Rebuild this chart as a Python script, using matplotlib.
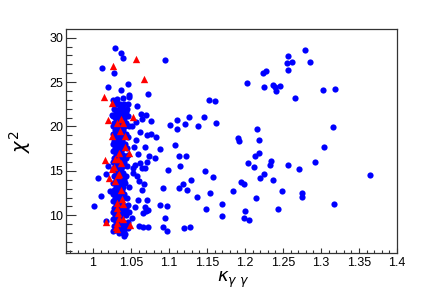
import matplotlib
matplotlib.use('Agg')
import matplotlib.pyplot as plt
import numpy as np
from matplotlib.ticker import MultipleLocator

# kappa_gg vs chi2
blue_wide = [
    (1.095, 27.52), (1.0726, 23.69), (1.2028, 24.93), (1.2234, 25.99), (1.2278, 26.28), (1.2247, 24.48),
    (1.1534, 22.98), (1.1606, 22.91), (1.0763, 20.6), (1.1016, 20.14), (1.1112, 20.70), (1.1104, 19.68),
    (1.121, 20.32), (1.1263, 21.04), (1.1381, 20.06), (1.146, 21.10), (1.1613, 20.36), (1.0765, 19.12),
    (1.0827, 18.82), (1.1086, 17.97), (1.1904, 18.67), (1.1917, 18.37), (1.216, 19.68), (1.2181, 18.50),
    (1.0884, 17.50), (1.0814, 16.49), (1.1131, 16.71), (1.1231, 16.71), (1.1144, 15.55), (1.0989, 15.07),
    (1.0927, 13.04), (1.1131, 13.07), (1.1191, 13.56), (1.124, 12.88), (1.1297, 13.94), (1.1474, 14.95),
    (1.1574, 14.31), (1.1376, 12.03), (1.1547, 12.48), (1.0972, 11.05), (1.0954, 9.66), (1.0927, 8.65),
    (1.0972, 8.23), (1.073, 8.65), (1.073, 10.6), (1.1205, 8.54), (1.128, 8.72), (1.1482, 10.74),
    (1.1693, 11.31), (1.1693, 9.92), (1.1847, 12.70), (1.2128, 16.71), (1.219, 17.02), (1.2041, 15.86),
    (1.2115, 15.41), (1.2335, 15.70), (1.2348, 16.08), (1.2247, 14.62), (1.2199, 14.20), (1.1949, 13.78),
    (1.1988, 13.49), (1.215, 11.91), (1.2005, 10.52), (1.1988, 9.70), (1.2049, 9.44), (1.2793, 28.62),
    (1.2563, 27.97), (1.255, 27.12), (1.2625, 27.26), (1.2854, 27.26), (1.2573, 26.40), (1.2375, 24.67),
    (1.2392, 24.41), (1.2414, 23.96), (1.2467, 24.56), (1.2656, 23.24), (1.3025, 24.08), (1.3189, 24.26),
    (1.3162, 19.94), (1.3043, 17.69), (1.2563, 15.70), (1.2708, 15.18), (1.2916, 16.04), (1.365, 14.54),
    (1.2365, 13.98), (1.2493, 12.70), (1.2753, 12.55), (1.2753, 12.03), (1.317, 11.31), (1.2431, 10.71),
]

blue_near = [
    (1.0629, 21.44), (1.0699, 21.33), (1.0642, 20.88), (1.062, 19.35), (1.0708, 19.01), (1.069, 17.69),
    (1.0577, 22.31), (1.0462, 22.53), (1.0479, 23.51), (1.0479, 23.36), (1.0458, 24.82), (1.0366, 24.11),
    (1.0387, 22.31), (1.0396, 23.18), (1.0321, 23.06), (1.0264, 23.02), (1.0317, 22.61), (1.0202, 24.41),
    (1.0123, 26.59), (1.0281, 26.02), (1.0294, 28.81), (1.0369, 28.24), (1.0392, 27.68), (1.0251, 21.29),
    (1.0286, 21.04), (1.0009, 11.08), (1.007, 14.23), (1.0106, 12.14), (1.0168, 9.36), (1.0172, 14.65),
    (1.0228, 12.77), (1.0268, 8.18), (1.0202, 15.55), (1.0532, 15.29), (1.0611, 13.86), (1.0677, 13.49),
    (1.0651, 12.85), (1.0598, 11.72), (1.0554, 10.97), (1.0686, 10.97), (1.0664, 10.29), (1.0479, 10.34),
    (1.0519, 9.66), (1.0611, 8.83), (1.0664, 8.72), (1.0458, 8.54), (1.0422, 7.86), (1.0356, 8.23),
    (1.0413, 7.70), (1.062, 15.86), (1.0712, 16.04), (1.0642, 15.29), (1.0686, 15.29), (1.0554, 15.66),
    (1.058, 14.39), (1.0532, 14.80), (1.0589, 16.87), (1.0545, 17.66), (1.0739, 16.68), (1.0563, 18.45),
    (1.0511, 20.06), (1.0567, 20.47), (1.0884, 11.16), (1.0708, 11.72), (1.0695, 10.45),
]

# the crowded column around kappa ~ 1.03
blue_band = [
    (1.030, 22.5), (1.036, 22.5), (1.041, 22.5), (1.028, 22.0), (1.034, 22.0), (1.040, 22.0), (1.045, 22.0),
    (1.031, 21.6), (1.037, 21.6), (1.043, 21.6), (1.027, 21.2), (1.033, 21.2), (1.039, 21.2), (1.046, 21.2),
    (1.030, 20.8), (1.035, 20.8), (1.041, 20.8), (1.028, 20.4), (1.034, 20.4), (1.038, 20.4), (1.044, 20.4),
    (1.026, 20.0), (1.031, 20.0), (1.036, 20.0), (1.042, 20.0), (1.048, 20.0), (1.029, 19.6), (1.034, 19.6),
    (1.040, 19.6), (1.027, 19.2), (1.032, 19.2), (1.037, 19.2), (1.043, 19.2), (1.030, 18.8), (1.035, 18.8),
    (1.041, 18.8), (1.046, 18.8), (1.028, 18.4), (1.033, 18.4), (1.038, 18.4), (1.026, 18.0), (1.031, 18.0),
    (1.036, 18.0), (1.042, 18.0), (1.029, 17.6), (1.034, 17.6), (1.039, 17.6), (1.045, 17.6), (1.027, 17.2),
    (1.032, 17.2), (1.037, 17.2), (1.030, 16.8), (1.035, 16.8), (1.040, 16.8), (1.046, 16.8), (1.028, 16.4),
    (1.033, 16.4), (1.038, 16.4), (1.043, 16.4), (1.026, 16.0), (1.031, 16.0), (1.036, 16.0), (1.041, 16.0),
    (1.029, 15.6), (1.034, 15.6), (1.039, 15.6), (1.045, 15.6), (1.027, 15.2), (1.032, 15.2), (1.037, 15.2),
    (1.030, 14.8), (1.035, 14.8), (1.040, 14.8), (1.028, 14.4), (1.033, 14.4), (1.038, 14.4), (1.044, 14.4),
    (1.031, 14.0), (1.036, 14.0), (1.041, 14.0), (1.027, 13.6), (1.032, 13.6), (1.037, 13.6), (1.042, 13.6),
    (1.030, 13.2), (1.035, 13.2), (1.040, 13.2), (1.047, 13.2), (1.028, 12.8), (1.033, 12.8), (1.038, 12.8),
    (1.026, 12.4), (1.031, 12.4), (1.036, 12.4), (1.041, 12.4), (1.029, 12.0), (1.034, 12.0), (1.039, 12.0),
    (1.045, 12.0), (1.027, 11.6), (1.032, 11.6), (1.037, 11.6), (1.030, 11.2), (1.035, 11.2), (1.040, 11.2),
    (1.046, 11.2), (1.028, 10.8), (1.033, 10.8), (1.038, 10.8), (1.043, 10.8), (1.026, 10.4), (1.031, 10.4),
    (1.036, 10.4), (1.041, 10.4), (1.029, 10.0), (1.034, 10.0), (1.039, 10.0), (1.044, 10.0), (1.027, 9.6),
    (1.032, 9.6), (1.037, 9.6), (1.030, 9.2), (1.035, 9.2), (1.040, 9.2), (1.046, 9.2), (1.028, 8.8),
    (1.033, 8.8), (1.038, 8.8), (1.043, 8.8), (1.031, 8.4), (1.036, 8.4), (1.041, 8.4), (1.034, 8.0),
    (1.039, 8.0),
]

red_points = [
    (1.0567, 27.60), (1.0267, 26.81), (1.0677, 25.32), (1.0141, 23.36), (1.0255, 22.68), (1.0532, 21.10),
    (1.0194, 20.70), (1.0373, 20.81), (1.040, 20.43), (1.0313, 20.36), (1.0255, 18.96), (1.0356, 19.49),
    (1.0425, 18.95), (1.0422, 17.69), (1.0343, 17.05), (1.047, 16.98), (1.0158, 16.28), (1.0294, 16.31),
    (1.0330, 16.31), (1.0369, 15.86), (1.0247, 15.21), (1.0281, 15.47), (1.0215, 14.23), (1.0334, 14.54),
    (1.0343, 14.68), (1.029, 13.86), (1.0369, 12.85), (1.0378, 11.84), (1.0312, 11.35), (1.040, 11.24),
    (1.0312, 10.86), (1.0334, 10.23), (1.0343, 9.66), (1.040, 9.58), (1.0168, 9.21), (1.0312, 9.10),
    (1.0488, 8.91), (1.0299, 8.72), (1.0312, 8.46),
]

x_ticks = [1.0, 1.05, 1.1, 1.15, 1.2, 1.25, 1.3, 1.35, 1.4]
x_tick_labels = ['1', '1.05', '1.1', '1.15', '1.2', '1.25', '1.3', '1.35', '1.4']
y_ticks = [10, 15, 20, 25, 30]

plt.rcParams['font.family'] = ['Liberation Sans', 'DejaVu Sans']

fig = plt.figure(figsize=(4.42, 2.99), dpi=100)
ax = fig.add_axes([0.149, 0.153, 0.749, 0.749])

blue = np.array(blue_wide + blue_near + blue_band)
red = np.array(red_points)
ax.scatter(blue[:, 0], blue[:, 1], s=20, marker='o', color='#0000ff', linewidths=0)
ax.scatter(red[:, 0], red[:, 1], s=28, marker='^', color='#ff0000', linewidths=0)

ax.set_xlim(0.9644, 1.4)
ax.set_ylim(5.73, 30.94)
ax.set_xticks(x_ticks)
ax.set_xticklabels(x_tick_labels)
ax.set_yticks(y_ticks)
ax.xaxis.set_minor_locator(MultipleLocator(0.01))
ax.yaxis.set_minor_locator(MultipleLocator(1))

frame_col = '#333333'
for sp in ax.spines.values():
    sp.set_color(frame_col)
    sp.set_linewidth(0.9)
ax.tick_params(axis='both', which='both', direction='in', colors=frame_col, labelcolor='black',
               labelsize=9, width=0.8, top=False, right=False)
ax.tick_params(axis='x', which='major', length=3.4, pad=3)
ax.tick_params(axis='x', which='minor', length=1.9)
ax.tick_params(axis='y', which='major', length=7.2, pad=2)
ax.tick_params(axis='y', which='minor', length=4.0)

ax.set_xlabel(r'$\kappa_{\gamma\ \gamma}$', fontsize=13)
ax.xaxis.set_label_coords(0.505, -0.075)
ax.set_ylabel(r'$\chi^{2}$', fontsize=14)
ax.yaxis.set_label_coords(-0.10, 0.5)

fig.savefig('out.png', dpi=100)
